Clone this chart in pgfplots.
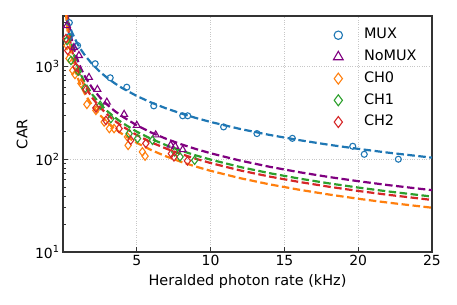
\documentclass[border=0pt]{standalone}
\usepackage{fontspec}
\setmainfont{DejaVu Sans}
\usepackage{pgfplots}
\pgfplotsset{compat=1.18}
\definecolor{tabblue}{HTML}{1F77B4}
\definecolor{taborange}{HTML}{FF7F0E}
\definecolor{tabgreen}{HTML}{2CA02C}
\definecolor{tabred}{HTML}{D62728}
\definecolor{tabpurple}{HTML}{800080}
\pgfplotsset{leg/.style={legend image code/.code={\draw[##1, mark size=#1] plot coordinates {(8.5bp,0bp)}; \path (0bp,0bp) (34bp,0bp);}},
  fitline/.style={forget plot, no marks, line width=2.2bp, dash pattern=on 7.5bp off 3.5bp}}
\begin{document}
\begin{tikzpicture}
\useasboundingbox (-63bp,-53bp) rectangle (394bp,252bp);
\begin{axis}[name=ax, scale only axis, width=369bp, height=236bp, at={(0,0)}, anchor=south west,
  xmin=0, xmax=25, ymin=10, ymax=3500, ymode=log,
  xtick={5,10,15,20,25},
  ytick={10,100,1000}, yticklabels={10\textsuperscript{1},10\textsuperscript{2},10\textsuperscript{3}},
  minor ytick={20,30,40,50,60,70,80,90,200,300,400,500,600,700,800,900,2000,3000},
  tick align=inside, tick pos=left,
  major tick length=5bp, minor tick length=3bp,
  xmajorgrids, ymajorgrids,
  major grid style={dotted, black!22, line width=0.7bp},
  axis line style={black!80, line width=1.1bp},
  tick style={black!80, line width=0.8bp},
  ticklabel style={font=\fontsize{14}{16}\selectfont},
  xticklabel style={/pgf/number format/assume math mode=true},
  xlabel={Heralded photon rate (kHz)}, ylabel={CAR},
  label style={font=\fontsize{14.5}{17}\selectfont},
  xlabel style={at={(axis description cs:0.5,-0.123)}, anchor=center},
  ylabel style={at={(axis description cs:-0.111,0.5)}, anchor=center},
  legend style={draw=none, fill=none, at={(axis description cs:0.722,0.948)}, anchor=north west,
    inner sep=0bp, row sep=8.2bp, font=\fontsize{14.5}{17}\selectfont, cells={anchor=west},
    nodes={inner sep=0bp, text height=10.5bp, text depth=3bp}},
]
% fitted curves
\addplot[fitline, tabblue] coordinates {(0.1,4216)(0.15,3906)(0.2,3638)(0.25,3405)(0.3,3200)(0.4,2856)(0.5,2579)(0.6,2350)(0.8,1997)(1,1736)(1.25,1492)(1.5,1308)(2,1050)(2.5,876.6)(3,752.4)(3.5,659.1)(4,586.3)(5,480.3)(6,406.7)(7,352.7)(8,311.4)(9,278.7)(10,252.2)(12,212.0)(14,182.8)(16,160.7)(18,143.3)(20,129.4)(22,117.9)(25,104.0)};
\addplot[fitline, tabpurple] coordinates {(0.3,3867)(0.35,3314)(0.4,2900)(0.5,2320)(0.6,1933)(0.7,1657)(0.8,1450)(1,1160)(1.25,928)(1.5,773.3)(2,580)(2.5,464)(3,386.7)(3.5,331.4)(4,290)(5,232)(6,193.3)(7,165.7)(8,145)(9,128.9)(10,116)(12,96.7)(14,82.9)(16,72.5)(18,64.4)(20,58)(22,52.7)(25,46.4)};
\addplot[fitline, tabgreen] coordinates {(0.25,3960)(0.3,3300)(0.35,2829)(0.4,2475)(0.5,1980)(0.6,1650)(0.7,1414)(0.8,1238)(1,990)(1.25,792)(1.5,660)(2,495)(2.5,396)(3,330)(3.5,282.9)(4,247.5)(5,198)(6,165)(7,141.4)(8,123.8)(9,110)(10,99)(12,82.5)(14,70.7)(16,61.9)(18,55)(20,49.5)(22,45)(25,39.6)};
\addplot[fitline, tabred] coordinates {(0.25,3640)(0.3,3033)(0.35,2600)(0.4,2275)(0.5,1820)(0.6,1517)(0.7,1300)(0.8,1138)(1,910)(1.25,728)(1.5,606.7)(2,455)(2.5,364)(3,303.3)(3.5,260)(4,227.5)(5,182)(6,151.7)(7,130)(8,113.8)(9,101.1)(10,91)(12,75.8)(14,65)(16,56.9)(18,50.6)(20,45.5)(22,41.4)(25,36.4)};
\addplot[fitline, taborange] coordinates {(0.2,3750)(0.25,3000)(0.3,2500)(0.35,2143)(0.4,1875)(0.5,1500)(0.6,1250)(0.7,1071)(0.8,937.5)(1,750)(1.25,600)(1.5,500)(2,375)(2.5,300)(3,250)(3.5,214.3)(4,187.5)(5,150)(6,125)(7,107.1)(8,93.75)(9,83.3)(10,75)(12,62.5)(14,53.6)(16,46.9)(18,41.7)(20,37.5)(22,34.1)(25,30)};
% measured points
\addplot[only marks, tabblue, mark=o, mark size=3bp, mark options={solid, line width=1.1bp, fill=white}, leg=4.2bp] coordinates {(0.43,2970)(0.43,2100)(0.99,1680)(2.18,1070)(3.20,755)(4.32,598)(6.15,376)(8.11,294)(8.45,294)(10.88,223)(13.14,189)(15.54,168)(19.63,138)(20.41,113)(22.72,100)};
\addlegendentry{MUX}
\addplot[only marks, tabpurple, mark=triangle, mark size=4bp, mark options={solid, line width=1.1bp, fill=white}, leg=5.6bp] coordinates {(0.27,2760)(0.74,1600)(1.08,1313)(1.76,762)(2.33,566)(2.97,413)(4.14,305)(5.0,232)(6.28,183)(7.30,142)(7.60,138)(8.11,127)};
\addlegendentry{NoMUX}
\addplot[only marks, taborange, mark=diamond, mark size=4.2bp, mark options={solid, line width=1.1bp, fill=taborange!35}, leg=5.5bp] coordinates {(0.27,1680)(0.41,1220)(0.66,906)(0.81,820)(1.22,656)(1.62,390)(2.23,336)(2.79,252)(3.14,214)(3.46,214)(4.37,174)(4.41,141)(5.38,120)(5.56,108)};
\addlegendentry{CH0}
\addplot[only marks, tabgreen, mark=diamond, mark size=4.2bp, mark options={solid, line width=1.1bp, fill=white}, leg=5.5bp] coordinates {(0.27,1900)(0.54,1160)(1.03,890)(1.49,580)(2.52,381)(3.24,274)(4.48,189)(5.05,167)(6.06,160)(7.57,120)(7.93,106)(8.92,97.5)};
\addlegendentry{CH1}
\addplot[only marks, tabred, mark=diamond, mark size=4.2bp, mark options={solid, line width=1.1bp, fill=tabred!30}, leg=5.5bp] coordinates {(0.2,2000)(0.32,1486)(0.88,984)(1.55,561)(2.23,357)(2.91,262)(3.80,214)(4.59,160)(5.61,148)(7.34,115)(7.52,106)(8.43,96)};
\addlegendentry{CH2}
\end{axis}
\end{tikzpicture}
\end{document}
